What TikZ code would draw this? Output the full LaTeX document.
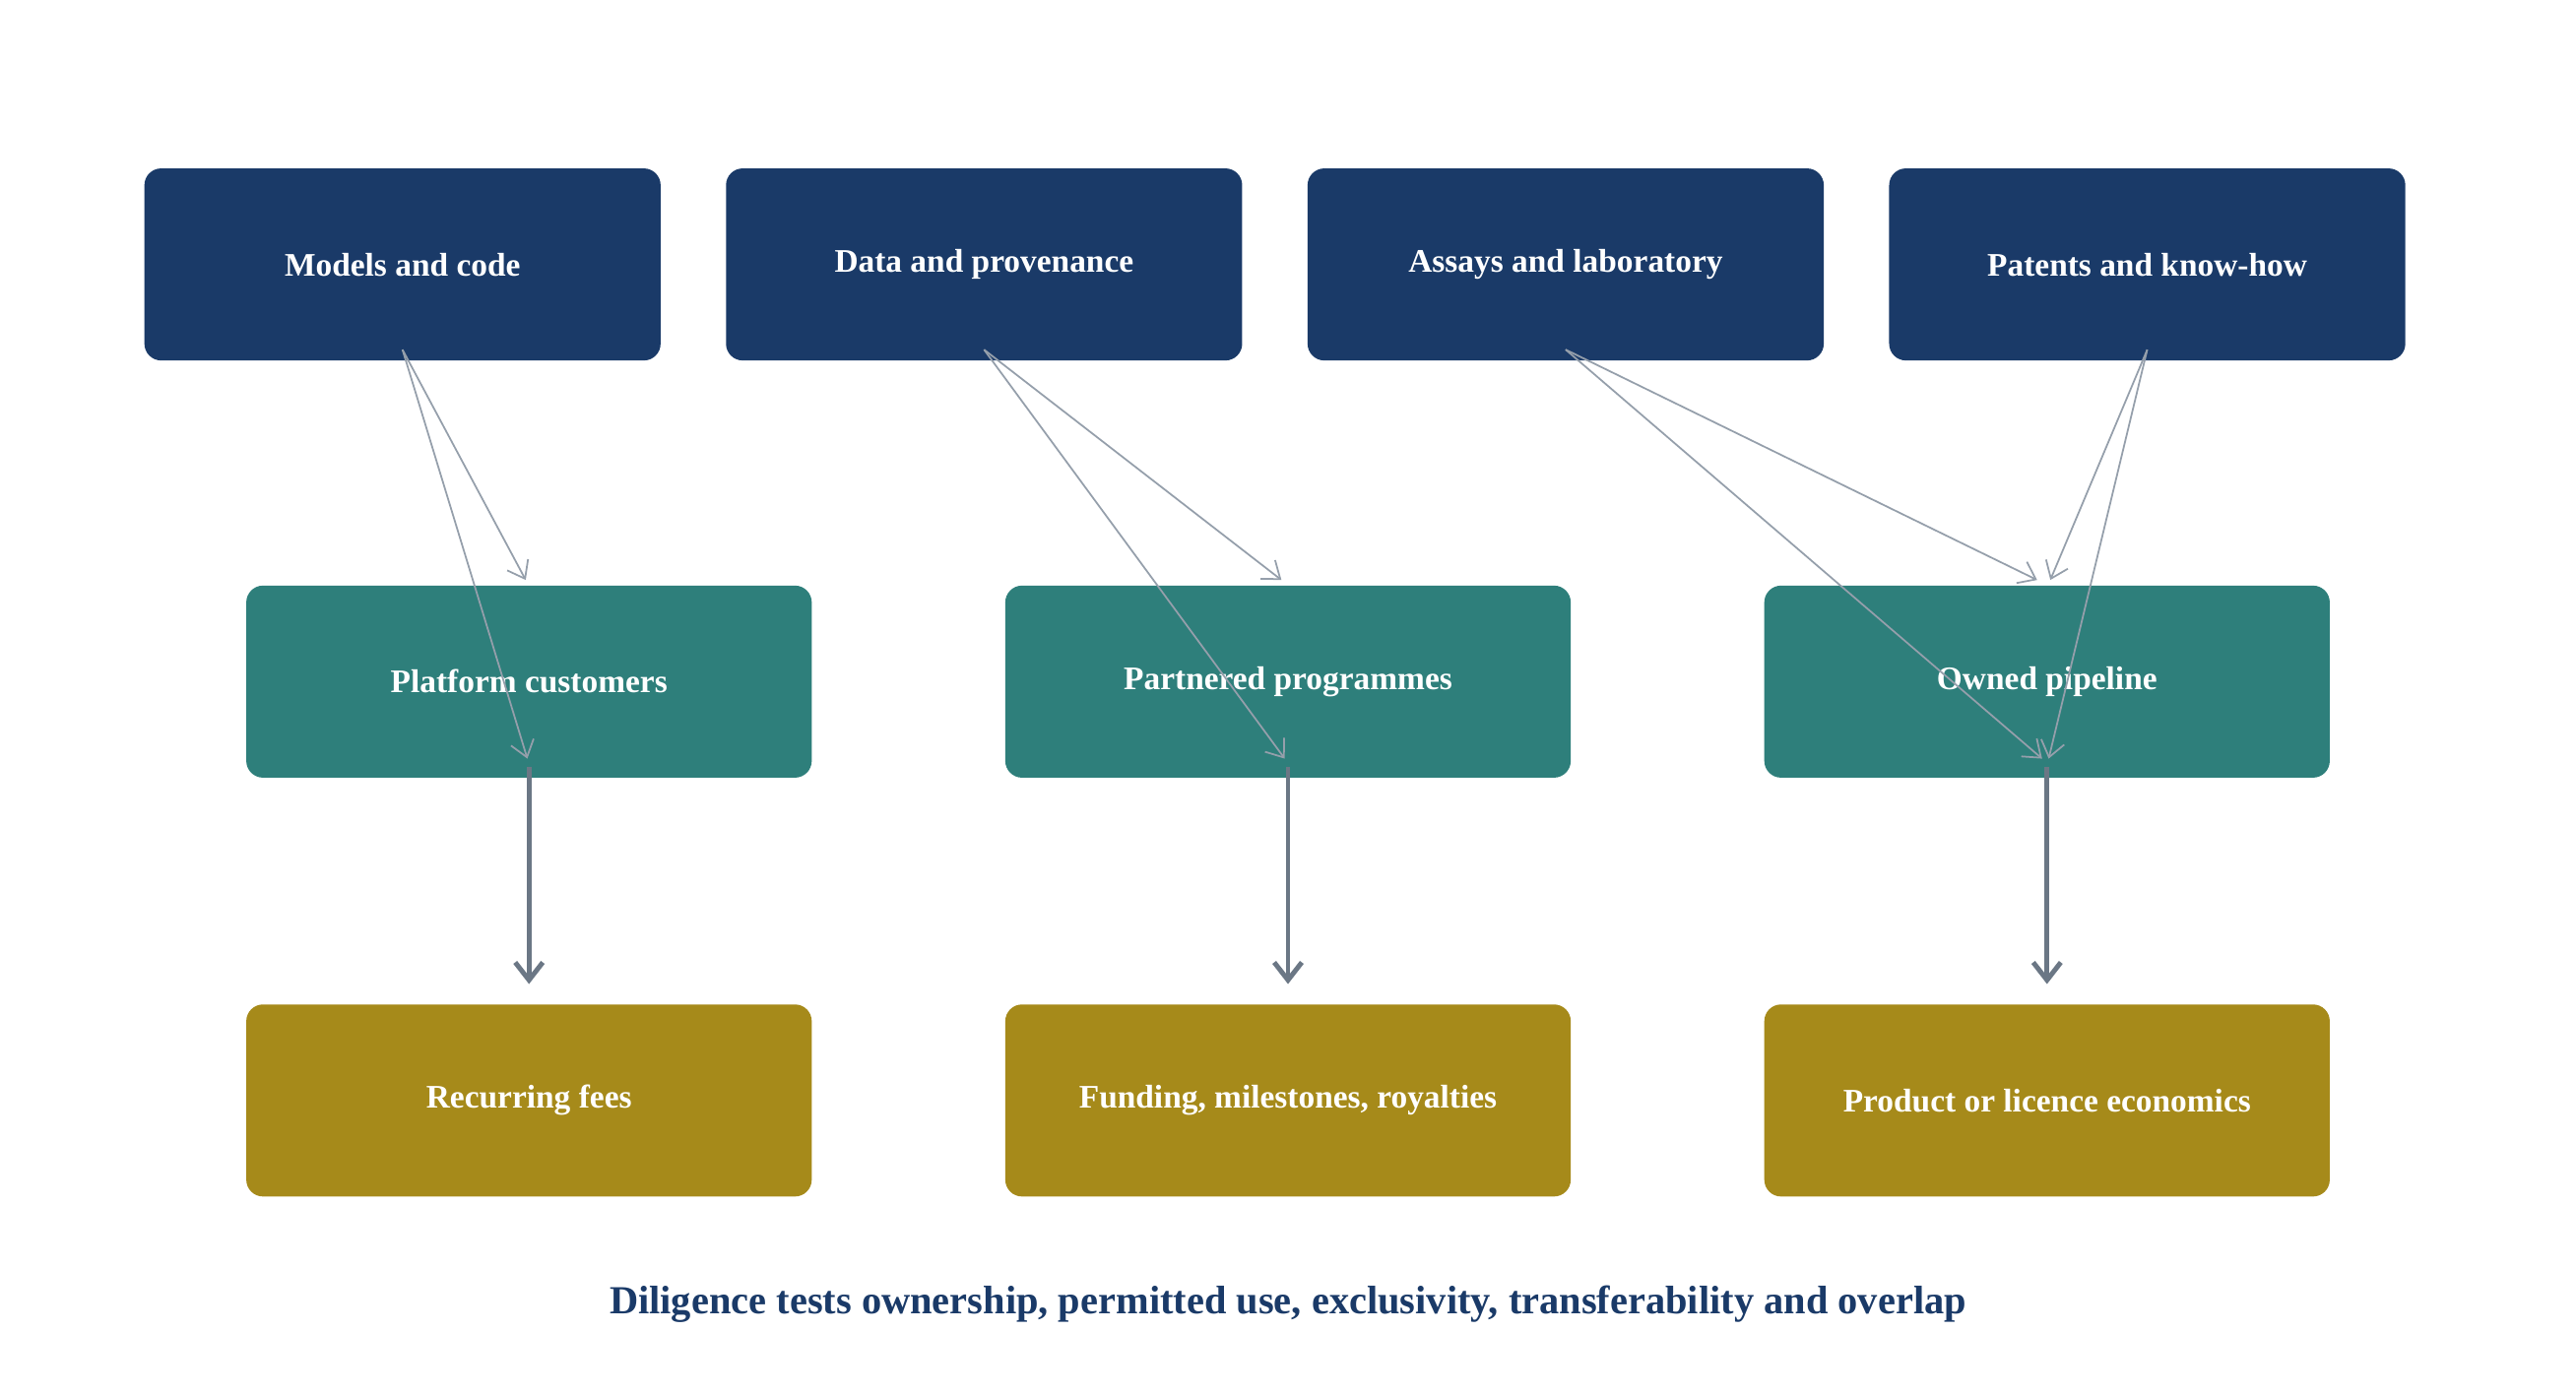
\documentclass[tikz,border=0pt]{standalone}
\usepackage{fontspec}
\setmainfont{Liberation Serif}
\usepackage{tikz}
\usetikzlibrary{positioning, calc}
\usetikzlibrary{arrows.meta}
\definecolor{navy}{HTML}{1A3A68}
\definecolor{teal}{HTML}{2E7F7B}
\definecolor{gold}{HTML}{A68A1A}
\definecolor{thin}{HTML}{959FAB}
\definecolor{thick}{HTML}{6B7785}
\tikzset{>={Stealth[width=2mm,length=2mm]}}

\begin{document}
\begin{tikzpicture}[x=0.01668cm, y=-0.01668cm,
  asset/.style={rectangle, rounded corners=0.17cm, fill=navy, text=white, font=\fontsize{9.5}{11}\selectfont\bfseries, minimum width=5.24cm, minimum height=1.95cm},
  model/.style={rectangle, rounded corners=0.17cm, fill=teal, text=white, font=\fontsize{9.5}{11}\selectfont\bfseries, minimum width=5.74cm, minimum height=1.95cm},
  value/.style={model, fill=gold},
  feed/.style={->, draw=thin, line width=0.5pt, >={Straight Barb[length=1.6mm,width=2.4mm]}},
  flow/.style={->, draw=thick, line width=1.4pt, >={Straight Barb[length=1.8mm,width=2.8mm]}}]

    \useasboundingbox (0,0) rectangle (1568,849);

    %Nodes
    \node[asset](models) at (245,161){Models and code};
    \node[asset](data) at (599,161){Data and provenance};
    \node[asset](assays) at (953,161){Assays and laboratory};
    \node[asset](patents) at (1307,161){Patents and know-how};

    \node[model](platform) at (322,415){Platform customers};
    \node[model](partnered) at (784,415){Partnered programmes};
    \node[model](owned) at (1246,415){Owned pipeline};

    \node[value](fees) at (322,670){Recurring fees};
    \node[value](funding) at (784,670){Funding, milestones, royalties};
    \node[value](product) at (1246,670){Product or licence economics};

    \node[text=navy, font=\fontsize{11.5}{13}\selectfont\bfseries](caption) at (784,794){Diligence tests ownership, permitted use, exclusivity, transferability and overlap};

    %Lines
    \foreach \src/\dst/\dx in {models/platform/-2, data/partnered/-4, assays/owned/-6, patents/owned/2}{
      \draw[feed] ($(\src.south)+(0,-7)$) -- ($(\dst.north)+(\dx,-3)$);
      \draw[feed] ($(\src.south)+(0,-7)$) -- ($(\dst.south)+(\dx/2,-12)$);
    }
    \draw[flow] ($(platform.south)+(0,-7)$) -- ($(fees.north)+(0,-12)$);
    \draw[flow] ($(partnered.south)+(0,-7)$) -- ($(funding.north)+(0,-12)$);
    \draw[flow] ($(owned.south)+(0,-7)$) -- ($(product.north)+(0,-12)$);

\end{tikzpicture}
\end{document}
